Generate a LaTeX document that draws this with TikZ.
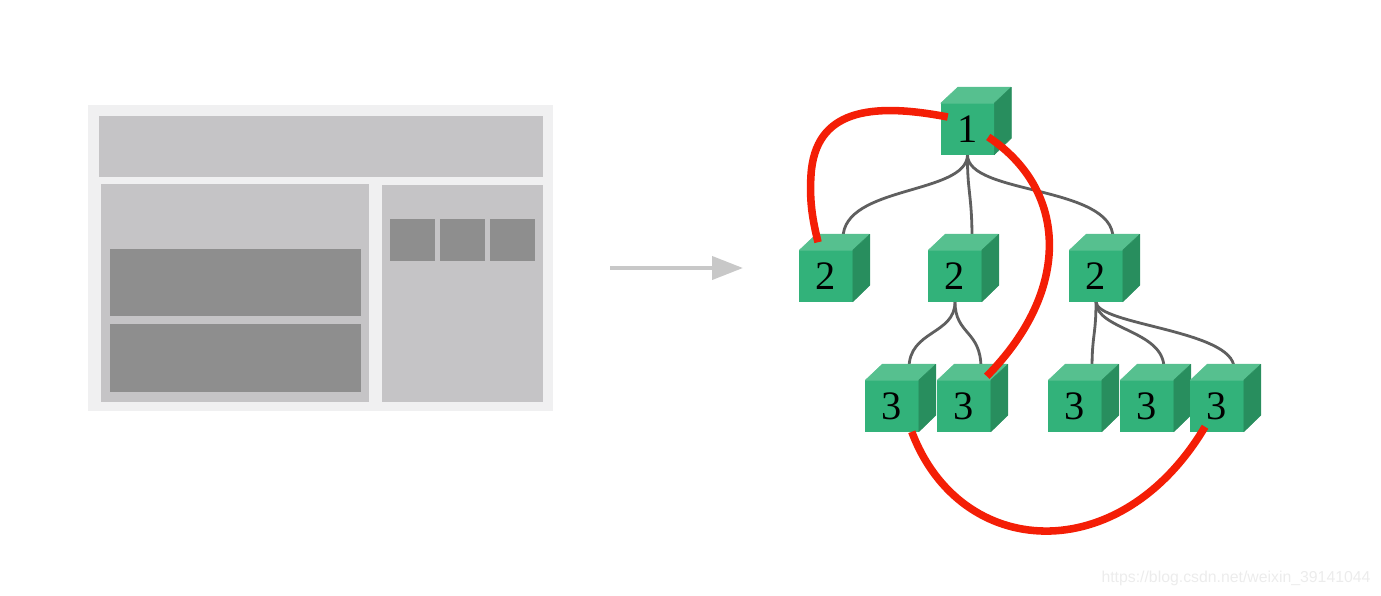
\documentclass[tikz,border=0pt]{standalone}
\usepackage{fontspec}
\setmainfont{Liberation Serif}
\newfontfamily\markfont{Liberation Sans}
\usetikzlibrary{arrows.meta,calc,backgrounds}

% front face as a named node, top and side faces drawn round it
\newcommand{\greencube}[3]{%
	\node[cubeface] (#1) at (#2) {#3};
	\path[cubetop] (#1.north west) -- ++(17,-16) -- ++(53,0) -- (#1.north east) -- cycle;
	\path[cubeside] (#1.north east) -- ++(17,-16) -- ++(0,51) -- (#1.south east) -- cycle;
}

\begin{document}
\begin{tikzpicture}[x=0.02cm, y=-0.02cm, >=Latex]
	
	\definecolor{frameA}{RGB}{240,240,241}
	\definecolor{panelA}{RGB}{197,196,198}
	\definecolor{blockA}{RGB}{142,142,142}
	\definecolor{arrowA}{RGB}{200,200,200}
	\definecolor{cubeF}{RGB}{50,178,122}
	\definecolor{cubeT}{RGB}{86,192,143}
	\definecolor{cubeS}{RGB}{40,142,94}
	\definecolor{linkA}{RGB}{95,95,95}
	\definecolor{redA}{RGB}{244,30,6}
	\definecolor{markA}{RGB}{236,236,236}
	
	\tikzset{
		frame/.style={fill=frameA},
		panel/.style={fill=panelA},
		block/.style={fill=blockA},
		cubeface/.style={fill=cubeF, draw=cubeF, line width=0.3pt, minimum width=1.06cm, minimum height=1.02cm, inner sep=0pt, font=\fontsize{23}{23}\selectfont},
		cubetop/.style={fill=cubeT, draw=cubeT, line width=0.3pt, line join=round},
		cubeside/.style={fill=cubeS, draw=cubeS, line width=0.3pt, line join=round},
		link/.style={draw=linkA, line width=1.6pt},
		jump/.style={draw=redA, line width=4.3pt},
		flow/.style={draw=arrowA, line width=2.3pt, -{Triangle[length=0.62cm, width=0.46cm]}},
		watermark/.style={text=markA, font=\markfont\fontsize{9}{9}\selectfont},
	}
	
	\useasboundingbox (0,0) rectangle (1381,595);
	
	% --- Page layout sketch
	\path[frame] (88,105) rectangle (553,411);
	\path[panel] (99,116) rectangle (543,177);
	\path[panel] (101,184) rectangle (369,402);
	\path[panel] (382,185) rectangle (543,402);
	\path[block] (110,249) rectangle (361,316);
	\path[block] (110,324) rectangle (361,392);
	\foreach \x in {390,440,490}
		\path[block] (\x,219) rectangle ++(45,42);
	
	% --- Arrow
	\coordinate (from) at (610,268);
	\coordinate (to) at (743,268);
	\draw[flow] (from) -- (to);
	
	% --- Component tree
	\greencube{c1}{967.5,129}{1}
	\greencube{c2a}{826,276}{2}
	\greencube{c2b}{955,276}{2}
	\greencube{c2c}{1096,276}{2}
	\greencube{c3a}{892,406}{3}
	\greencube{c3b}{964,406}{3}
	\greencube{c3c}{1075,406}{3}
	\greencube{c3d}{1147,406}{3}
	\greencube{c3e}{1217,406}{3}
	
	% parent-child links behind the cubes
	\begin{pgfonlayer}{background}
		\draw[link] (c1.south) .. controls (967,195) and (843,185) .. ($(c2a.north)+(17,-12)$);
		\draw[link] (c1.south) .. controls (967,190) and (972,195) .. ($(c2b.north)+(17,-12)$);
		\draw[link] (c1.south) .. controls (967,195) and (1113,185) .. ($(c2c.north)+(17,-12)$);
		\draw[link] (c2b.south) .. controls (955,335) and (909,330) .. ($(c3a.north)+(17,-12)$);
		\draw[link] (c2b.south) .. controls (955,335) and (981,330) .. ($(c3b.north)+(17,-12)$);
		\draw[link] (c2c.south) .. controls (1096,335) and (1092,335) .. ($(c3c.north)+(17,-12)$);
		\draw[link] (c2c.south) .. controls (1096,330) and (1164,330) .. ($(c3d.north)+(17,-12)$);
		\draw[link] (c2c.south) .. controls (1096,325) and (1234,330) .. ($(c3e.north)+(17,-12)$);
	\end{pgfonlayer}
	
	% cross-level communication
	\draw[jump] ($(c1.west)+(7,-12)$) .. controls (870,102) and (815,110) .. (811,175)
		.. controls (809,205) and (814,225) .. ($(c2a.north)+(-8,-8)$);
	\draw[jump] ($(c1.east)+(-6,8)$) .. controls (1068,190) and (1072,290) .. ($(c3b.north east)+(-4,-4)$);
	\draw[jump] ($(c3a.south east)+(-7,0)$) .. controls (960,560) and (1120,570) .. ($(c3e.south)+(-12,-5)$);
	
	\node[watermark] (mark) at (1236,578) {https://blog.csdn.net/weixin\_39141044};
	
\end{tikzpicture}
\end{document}
